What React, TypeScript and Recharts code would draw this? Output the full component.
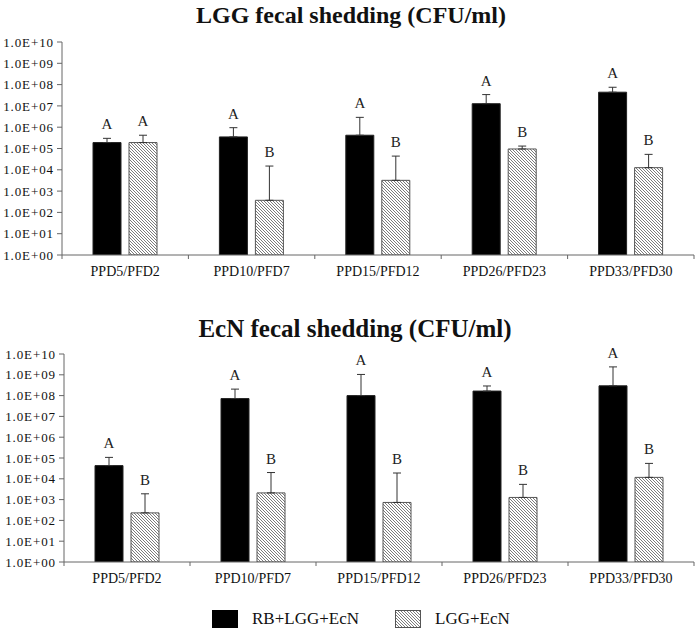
import React from 'react';
import { Bar, BarChart, XAxis, YAxis, ErrorBar, LabelList } from 'recharts';

const periods = ['PPD5/PFD2', 'PPD10/PFD7', 'PPD15/PFD12', 'PPD26/PFD23', 'PPD33/PFD30'];
const yTicks = [1, 1e1, 1e2, 1e3, 1e4, 1e5, 1e6, 1e7, 1e8, 1e9, 1e10];

// LGG fecal shedding
const lggRb = [1.9e5, 3.5e5, 4.2e5, 1.27e7, 4.4e7];
const lggRbTop = [3.0e5, 9.5e5, 2.9e6, 3.4e7, 7.5e7];
const lggRbLetter = ['A', 'A', 'A', 'A', 'A'];
const lggCtl = [1.9e5, 370, 3.2e3, 9.5e4, 1.26e4];
const lggCtlTop = [4.2e5, 1.5e4, 4.4e4, 1.3e5, 5.3e4];
const lggCtlLetter = ['A', 'B', 'B', 'B', 'B'];

// EcN fecal shedding
const ecnRb = [4.3e4, 7.2e7, 1.0e8, 1.65e8, 2.95e8];
const ecnRbTop = [1.07e5, 2.05e8, 1.04e9, 2.9e8, 2.4e9];
const ecnRbLetter = ['A', 'A', 'A', 'A', 'A'];
const ecnCtl = [230, 2.1e3, 730, 1.27e3, 1.17e4];
const ecnCtlTop = [1.9e3, 2.0e4, 1.9e4, 5.4e3, 5.5e4];
const ecnCtlLetter = ['B', 'B', 'B', 'B', 'B'];

const serif = '"Liberation Serif", "DejaVu Serif", serif';
const axisColor = '#666';

const makeRows = (rb: number[], rbTop: number[], rbL: string[], ctl: number[], ctlTop: number[], ctlL: string[]) =>
  periods.map((p, i) => ({
    period: p,
    rb: rb[i],
    rbErr: [0, rbTop[i] - rb[i]],
    rbTop: rbTop[i],
    rbLetter: rbL[i],
    ctl: ctl[i],
    ctlErr: [0, ctlTop[i] - ctl[i]],
    ctlTop: ctlTop[i],
    ctlLetter: ctlL[i],
  }));

const lggRows = makeRows(lggRb, lggRbTop, lggRbLetter, lggCtl, lggCtlTop, lggCtlLetter);
const ecnRows = makeRows(ecnRb, ecnRbTop, ecnRbLetter, ecnCtl, ecnCtlTop, ecnCtlLetter);

const fmtTick = (v: number) => `1.0E+${String(Math.round(Math.log10(v))).padStart(2, '0')}`;

const XTick = (props: any) => {
  const { x, y, payload, index, visibleTicksCount } = props;
  const half = payload.offset ?? 63;
  return (
    <g>
      <line x1={x - half} y1={y} x2={x - half} y2={y + 4} stroke={axisColor} />
      {index === visibleTicksCount - 1 && (
        <line x1={x + half} y1={y} x2={x + half} y2={y + 4} stroke={axisColor} />
      )}
      <text x={x} y={y + 21} textAnchor="middle" fontFamily={serif} fontSize={14} fill="#111">
        {payload.value}
      </text>
    </g>
  );
};

// letter placed above the error bar top, using the bar's own pixel geometry
const letterContent = (rows: any[], key: 'rb' | 'ctl') => (props: any) => {
  const vb = props.viewBox || props;
  const { x, y, width, height } = vb;
  const row = rows[props.index];
  if (!row) return null;
  const v = row[key];
  const top = row[key + 'Top'];
  const perDecade = height / Math.log10(v);
  const topY = y - (Math.log10(top) - Math.log10(v)) * perDecade;
  return (
    <text x={x + width / 2} y={topY - 9} textAnchor="middle" fontFamily={serif} fontSize={15} fill="#222">
      {row[key + 'Letter']}
    </text>
  );
};

function Panel({ rows, marginTop, xHeight, yWidth }: { rows: any[]; marginTop: number; xHeight: number; yWidth: number }) {
  return (
    <BarChart
      width={697}
      height={290}
      data={rows}
      margin={{ top: marginTop, right: 3, bottom: 0, left: 0 }}
      barSize={28}
      barGap={8}
    >
      <XAxis
        dataKey="period"
        height={xHeight}
        stroke={axisColor}
        tickLine={false}
        tickSize={0}
        tickMargin={0}
        tick={<XTick />}
        interval={0}
      />
      <YAxis
        scale="log"
        domain={[1, 1e10]}
        ticks={yTicks}
        allowDataOverflow
        width={yWidth}
        stroke={axisColor}
        tickSize={5}
        tickMargin={3}
        interval={0}
        tickFormatter={fmtTick}
        tick={{ fill: '#111', fontFamily: serif, fontSize: 13, letterSpacing: 0.9 }}
      />
      <Bar dataKey="rb" fill="#000" stroke="#222" strokeWidth={1} isAnimationActive={false}>
        <ErrorBar dataKey="rbErr" width={4} stroke="#333" strokeWidth={1} direction="y" />
        <LabelList dataKey="rbLetter" content={letterContent(rows, 'rb')} />
      </Bar>
      <Bar dataKey="ctl" fill="url(#hatch)" stroke="#555" strokeWidth={1} isAnimationActive={false}>
        <ErrorBar dataKey="ctlErr" width={4} stroke="#333" strokeWidth={1} direction="y" />
        <LabelList dataKey="ctlLetter" content={letterContent(rows, 'ctl')} />
      </Bar>
    </BarChart>
  );
}

export default function App() {
  return (
    <div style={{ position: 'absolute', left: 0, top: 0, width: 697, height: 631, background: '#fff' }}>
      <svg width={697} height={631} style={{ position: 'absolute', left: 0, top: 0, pointerEvents: 'none' }}>
        <defs>
          <pattern id="hatch" patternUnits="userSpaceOnUse" width={3} height={3}>
            <rect width={3} height={3} fill="#fff" />
            <path d="M-1,-1 L4,4 M2,-1 L4,1 M-1,2 L1,4" stroke="#444" strokeWidth={0.7} />
          </pattern>
        </defs>
        <text x={351} y={23} textAnchor="middle" fontFamily={serif} fontWeight="bold" fontSize={24} fill="#111">
          LGG fecal shedding (CFU/ml)
        </text>
        <text x={355} y={337} textAnchor="middle" fontFamily={serif} fontWeight="bold" fontSize={25} fill="#111">
          EcN fecal shedding (CFU/ml)
        </text>
        <rect x={212} y={610} width={26} height={18} fill="#000" />
        <text x={252} y={624} fontFamily={serif} fontSize={17} fill="#111">RB+LGG+EcN</text>
        <rect x={395.5} y={610.5} width={25} height={17} fill="url(#hatch)" stroke="#555" />
        <text x={435} y={624} fontFamily={serif} fontSize={17} fill="#111">LGG+EcN</text>
      </svg>
      <div style={{ position: 'absolute', left: 0, top: 0 }}>
        <Panel rows={lggRows} marginTop={42} xHeight={35} yWidth={62} />
      </div>
      <div style={{ position: 'absolute', left: 0, top: 310 }}>
        <Panel rows={ecnRows} marginTop={44} xHeight={38} yWidth={64} />
      </div>
    </div>
  );
}
